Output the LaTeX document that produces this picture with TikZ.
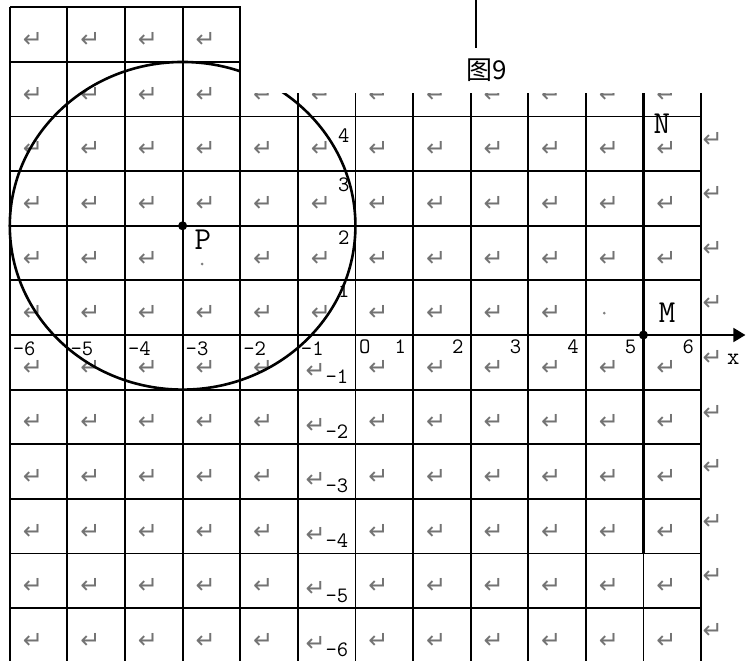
\documentclass[tikz,border=0pt]{standalone}
\usepackage{fontspec}
\newfontfamily\markfont{DejaVu Sans}
\newfontfamily\cjk{Noto Sans CJK SC}
\usetikzlibrary{arrows.meta}
\tikzset{
    gridline/.style={line width=0.9pt},
    parmark/.style={text=black!55, font=\markfont\fontsize{12}{12}\selectfont, inner sep=0pt},
    ticklabel/.style={font=\ttfamily\fontsize{11}{11}\selectfont, inner sep=0.5pt},
    ptlabel/.style={font=\ttfamily\fontsize{16}{16}\selectfont, inner sep=0pt},
    ptdot/.style={circle, fill, inner sep=0pt, minimum size=4.5pt},
    specks/.style={circle, fill=black!50, inner sep=0pt, minimum size=1.5pt}
}
\begin{document}
\begin{tikzpicture}[x=28.8pt, y=27.3pt]
    \useasboundingbox (-6.17,-5.97) rectangle (6.78,6.135);
    \foreach \i in {-6,...,6}
        \draw [gridline] (\i,-6) -- (\i,6);
    \foreach \j in {-6,...,6}
        \draw [gridline] (-6,\j) -- (6,\j);
    \foreach \i in {-6,...,5} {
        \foreach \j in {-6,...,5} {
            \pgfmathtruncatemacro\hide{(\i==-3 && \j==1) || (\i>3 && \j==0)}
            \pgfmathsetmacro\dx{(\i==-1 && \j<0) ? 0.31 : 0.4}
            \pgfmathsetmacro\dy{(\i==-1 && \j<0) ? 0.34 : 0.4}
            \ifnum\hide=0
                \node [parmark] (m\i\j) at (\i+\dx,\j+\dy) {↵};
            \fi
        }
    }
    \foreach \j in {-6,...,4}
        \node [parmark] (r\j) at (6.2,\j+0.58) {↵};
    \node [specks] (sp1) at (4.32,0.4) {};
    \node [specks] (sp2) at (-2.66,1.3) {};

    \node [ptdot] (P) at (-3,2) {};
    \draw [line width=1.3pt] (P.center) ellipse [x radius=3, y radius=3];
    \node [ptlabel] (plab) at (-2.65,1.74) {P};

    \coordinate (ntop) at (5,6);
    \coordinate (nbot) at (5,-4);
    \draw [line width=1.7pt] (ntop) -- (nbot);
    \node [ptdot] (M) at (5,0) {};
    \node [ptlabel] (mlab) at (5.41,0.40) {M};
    \node [ptlabel] (nlab) at (5.32,3.87) {N};

    \coordinate (xend) at (6,0);
    \coordinate (xtip) at (6.77,0);
    \draw [gridline, -{Triangle[length=6pt, width=7pt]}] (xend) -- (xtip);
    \node [ticklabel, font=\ttfamily\fontsize{12}{12}\selectfont] (xlab) at (6.56,-0.45) {x};

    \foreach \k/\yy in {4/3.66, 3/2.75, 2/1.79, 1/0.82}
        \node [ticklabel, anchor=east] (yp\k) at (-0.08,\yy) {\k};
    \foreach \k in {1,...,6}
        \node [ticklabel, anchor=east] (yn\k) at (-0.1,-\k+0.23) {-\k};
    \foreach \k in {1,...,6}
        \node [ticklabel, anchor=west] (xn\k) at (-\k+0.03,-0.25) {-\k};
    \foreach \k in {1,...,6}
        \node [ticklabel, anchor=east] (xp\k) at (\k-0.1,-0.22) {\k};
    \node [ticklabel, anchor=west] (O) at (0.04,-0.22) {O};

    \fill [white] ([xshift=0.45pt]-2,4.43) rectangle (6.9,6.3);
    \node [font=\cjk\fontsize{13}{13}\selectfont, inner sep=0pt] (fig) at (2.28,4.85) {图9};
    \coordinate (leadtop) at (2.09,6.2);
    \coordinate (leadbot) at (2.09,5.26);
    \draw [line width=0.7pt] (leadtop) -- (leadbot);
\end{tikzpicture}
\end{document}
